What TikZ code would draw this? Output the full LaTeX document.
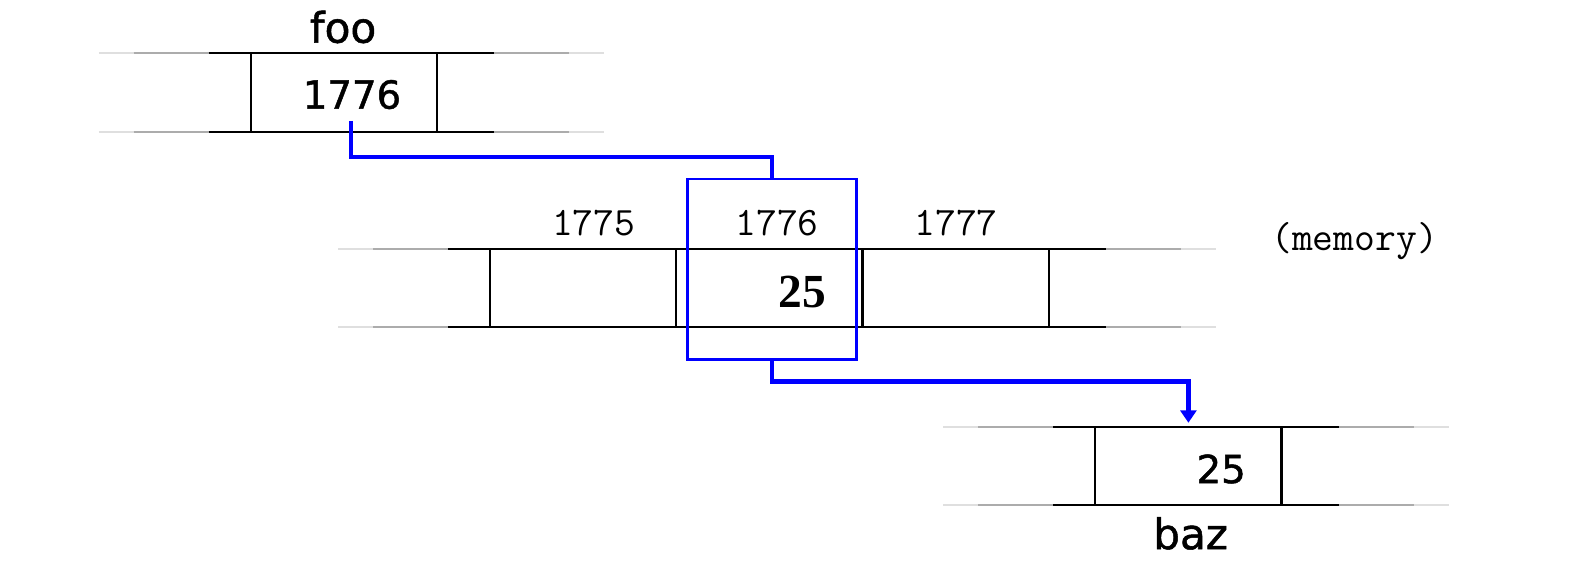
\documentclass[tikz,border=0pt]{standalone}
\usepackage{fontspec}
\setmainfont{DejaVu Sans}[FakeBold=1.2]
\newfontfamily\valfont{Liberation Serif}
\usepackage{tikz}
\usetikzlibrary{
  arrows.meta,
  positioning,
  calc,
  backgrounds
}
\definecolor{wireblue}{RGB}{0,0,255}

\begin{document}
\begin{tikzpicture}[
  x=0.02cm, y=-0.02cm,
  cell/.style ={draw,line width=1.2pt,minimum width=3.724cm,minimum height=1.57cm,
                inner sep=0pt,outer sep=0pt},
  rail/.style ={draw=gray!25,line width=1.2pt,
                postaction={draw=gray!65,shorten <=0.7cm,shorten >=0.7cm},
                postaction={draw=black,shorten <=2.2cm,shorten >=2.2cm}},
  lbl/.style  ={font=\fontsize{24}{28}\selectfont},
  val/.style  ={font=\fontsize{22}{26}\selectfont},
  addr/.style ={font=\ttfamily\fontsize{23}{27}\selectfont},
  sel/.style  ={draw=wireblue,line width=1.4pt,minimum width=3.38cm,
                minimum height=3.606cm,inner sep=0pt},
  wire/.style ={draw=wireblue,line width=2.4pt},
  arr/.style  ={-{Triangle[width=9pt,length=7pt]},shorten >=0.08cm},
]
\useasboundingbox (0,0) rectangle (1578,570);

% foo
\node[cell] (foocell) at (343.7,92.5) {};
\node[lbl]  (foolbl)  at (343,27)     {foo};
\node[val]  (fooval)  at (352,94.6)   {1776};

% memory
\node[cell] (mem1) at (583.2,287.8) {};
\node[cell, right=0pt of mem1] (mem2) {};
\node[cell, right=0pt of mem2] (mem3) {};
\node[addr] (addr1) at (593.8,223.4) {1775};
\node[addr] (addr2) at (777,223.4)   {1776};
\node[addr] (addr3) at (956,223.4)   {1777};
\node[addr] (memlbl) at (1354.6,241.5) {(memory)};
\node[font=\valfont\bfseries\fontsize{27}{30}\selectfont,anchor=east]
  (memval) at (832,292) {25};
\node[sel] (sel) at (771.9,269.2) {};

% baz
\node[cell] (bazcell) at (1188.4,466) {};
\node[val,anchor=east] (bazval) at (1252,469) {25};
\node[lbl]  (bazlbl)  at (1190.6,533.4) {baz};

\begin{scope}[on background layer]
\draw[rail] ($(foocell.north west)+(-152,0)$) -- ($(foocell.north east)+(167,0)$);
\draw[rail] ($(foocell.south west)+(-152,0)$) -- ($(foocell.south east)+(167,0)$);
\draw[rail] ($(mem1.north west)+(-152,0)$) -- ($(mem3.north east)+(167,0)$);
\draw[rail] ($(mem1.south west)+(-152,0)$) -- ($(mem3.south east)+(167,0)$);
\draw[rail] ($(bazcell.north west)+(-152,0)$) -- ($(bazcell.north east)+(167,0)$);
\draw[rail] ($(bazcell.south west)+(-152,0)$) -- ($(bazcell.south east)+(167,0)$);
\end{scope}

\coordinate (wstart) at (351.2,120.8);
\draw[wire] (wstart) -- ++(0,36) -| (sel.north);
\draw[wire,arr] (sel.south) -- ++(0,21) -| (bazcell.north);
\end{tikzpicture}
\end{document}
